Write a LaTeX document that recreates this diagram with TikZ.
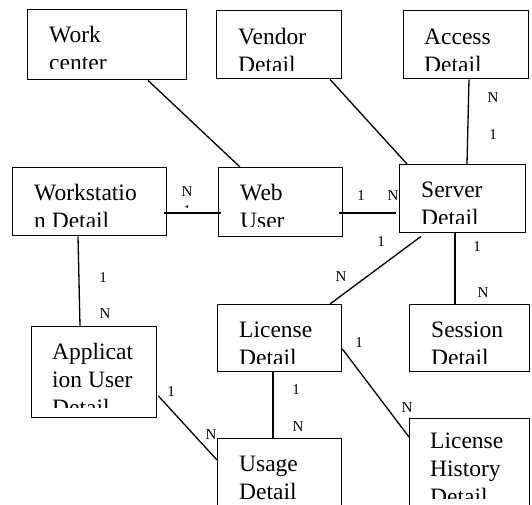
\documentclass[tikz,border=0pt]{standalone}
\usepackage{fontspec}
\setmainfont{Liberation Serif}
\usetikzlibrary{calc}

\begin{document}
\begin{tikzpicture}[x=1pt,y=-1pt,
  ent/.style={rectangle,draw,line width=1.4pt,inner sep=0pt,anchor=north west},
  etxt/.style={anchor=base west,align=left,inner sep=0pt,font=\fontsize{23.5}{28}\selectfont},
  card/.style={inner sep=0pt,font=\fontsize{15}{15}\selectfont},
  rel/.style={line width=1.3pt}
]
\useasboundingbox (0,0) rectangle (532,504);

% entity boxes
\node[ent,minimum width=159pt,minimum height=70pt] (work) at (27,9) {};
\node[ent,minimum width=125pt,minimum height=68pt] (vendor) at (216,10) {};
\node[ent,minimum width=125pt,minimum height=68pt] (access) at (403,10) {};
\node[ent,minimum width=154pt,minimum height=68pt] (wst) at (12,167) {};
\node[ent,minimum width=124pt,minimum height=69pt] (web) at (218,167) {};
\node[ent,minimum width=126pt,minimum height=68pt] (server) at (399,164) {};
\node[ent,minimum width=125pt,minimum height=91pt] (app) at (31,326) {};
\node[ent,minimum width=124pt,minimum height=67pt] (lic) at (217,304) {};
\node[ent,minimum width=120pt,minimum height=67pt] (sess) at (409,304) {};
\node[ent,minimum width=124pt,minimum height=74pt] (usage) at (217,438) {};
\node[ent,minimum width=120pt,minimum height=94pt] (lhist) at (409,418) {};

% box texts, cut off at the bottom (anchor is the last line)
\begin{scope}
  \clip ([yshift=12pt]work.south west) rectangle (work.north east);
  \node[etxt] (workT) at ([xshift=22pt,yshift=-61pt]work.north west) {Work\\center};
\end{scope}
\begin{scope}
  \clip ([yshift=9pt]vendor.south west) rectangle (vendor.north east);
  \node[etxt] (vendorT) at ([xshift=22pt,yshift=-62pt]vendor.north west) {Vendor\\Detail};
\end{scope}
\begin{scope}
  \clip ([yshift=9pt]access.south west) rectangle (access.north east);
  \node[etxt] (accessT) at ([xshift=21pt,yshift=-62pt]access.north west) {Access\\Detail};
\end{scope}
\begin{scope}
  \clip ([yshift=10pt]wst.south west) rectangle (wst.north east);
  \node[etxt] (wstT) at ([xshift=22pt,yshift=-61pt]wst.north west) {Workstatio\\n Detail};
\end{scope}
\begin{scope}
  \clip ([yshift=11pt]web.south west) rectangle (web.north east);
  \node[etxt] (webT) at ([xshift=22pt,yshift=-61pt]web.north west) {Web\\User};
\end{scope}
\begin{scope}
  \clip ([yshift=10pt]server.south west) rectangle (server.north east);
  \node[etxt] (serverT) at ([xshift=22pt,yshift=-61pt]server.north west) {Server\\Detail};
\end{scope}
\begin{scope}
  \clip ([yshift=11pt]app.south west) rectangle (app.north east);
  \node[etxt] (appT) at ([xshift=21pt,yshift=-89pt]app.north west) {Applicat\\ion User\\Detail};
\end{scope}
\begin{scope}
  \clip ([yshift=9pt]lic.south west) rectangle (lic.north east);
  \node[etxt] (licT) at ([xshift=22pt,yshift=-61pt]lic.north west) {License\\Detail};
\end{scope}
\begin{scope}
  \clip ([yshift=9pt]sess.south west) rectangle (sess.north east);
  \node[etxt] (sessT) at ([xshift=22pt,yshift=-61pt]sess.north west) {Session\\Detail};
\end{scope}
\begin{scope}
  \clip ([yshift=14pt]usage.south west) rectangle (usage.north east);
  \node[etxt] (usageT) at ([xshift=22pt,yshift=-61pt]usage.north west) {Usage\\Detail};
\end{scope}
\begin{scope}
  \clip ([yshift=15pt]lhist.south west) rectangle (lhist.north east);
  \node[etxt] (lhistT) at ([xshift=21pt,yshift=-86pt]lhist.north west) {License\\History\\Detail};
\end{scope}

% relationships
\draw[rel] ([xshift=121pt]work.south west) -- ([xshift=22pt]web.north west);
\draw[rel] ([xshift=114pt]vendor.south west) -- ([xshift=8pt]server.north west);
\draw[rel] ([xshift=66pt]access.south west) -- ([xshift=68pt]server.north west);
\draw[rel] ([xshift=-3pt,yshift=-46pt]wst.north east) -- ([xshift=3pt,yshift=-46pt]web.north west);
\draw[rel] ([xshift=-4pt,yshift=-46pt]web.north east) -- ([xshift=-3pt,yshift=-49pt]server.north west);
\draw[rel] ([xshift=22pt,yshift=-3pt]server.south west) -- ([xshift=113pt]lic.north west);
\draw[rel] ([xshift=56pt]server.south west) -- ([xshift=46pt]sess.north west);
\draw[rel] ([xshift=66pt]wst.south west) -- ([xshift=49pt]app.north west);
\draw[rel] ([xshift=1pt,yshift=-70pt]app.north east) -- ([yshift=-22pt]usage.north west);
\draw[rel] ([xshift=56pt]lic.south west) -- ([xshift=56pt]usage.north west);
\draw[rel] ([yshift=-45pt]lic.north east) -- ([yshift=-19pt]lhist.north west);

% cardinalities
\node[card] (accN) at (493,98) {N};
\node[card] (acc1) at (493,135) {1};
\node[card] (wstN) at (187,192) {N};
\begin{scope}
  \clip (180,200) rectangle (195,207);
  \node[card] (wst1) at (187,211) {1};
\end{scope}
\node[card] (web1) at (361,196) {1};
\node[card] (webN) at (393,196) {N};
\node[card] (lic1) at (381,242) {1};
\node[card] (licN) at (341,277) {N};
\node[card] (sess1) at (477,247) {1};
\node[card] (sessN) at (483,293) {N};
\node[card] (app1) at (103,278) {1};
\node[card] (appN) at (105,314) {N};
\node[card] (usage1) at (171,392) {1};
\node[card] (usageN) at (211,435) {N};
\node[card] (lu1) at (296,390) {1};
\node[card] (luN) at (298,427) {N};
\node[card] (lh1) at (359,343) {1};
\node[card] (lhN) at (407,408) {N};
\end{tikzpicture}
\end{document}
